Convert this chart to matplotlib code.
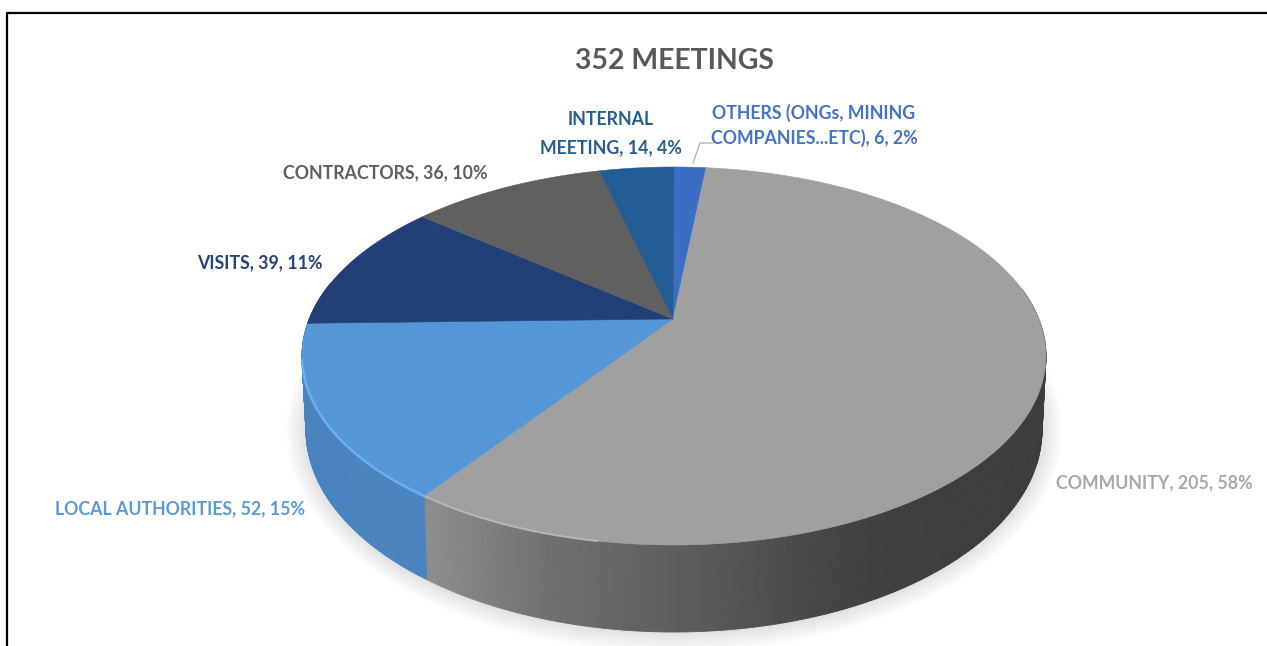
import numpy as np
import matplotlib
matplotlib.use("Agg")
import matplotlib.pyplot as plt
from matplotlib.collections import PolyCollection

plt.rcParams["font.family"] = ["Lato", "DejaVu Sans"]

# ----------------------------
# Meeting counts, clockwise from 12 o'clock
# ----------------------------
title = "352 MEETINGS"
names = ["OTHERS (ONGs, MINING\nCOMPANIES...ETC)", "COMMUNITY", "LOCAL AUTHORITIES",
         "VISITS", "CONTRACTORS", "INTERNAL\nMEETING"]
counts = [6, 205, 52, 39, 36, 14]
percents = [2, 58, 15, 11, 10, 4]
top_colors = ["#3a6dc4", "#a0a0a0", "#5596d6", "#223f78", "#606060", "#245c94"]
text_colors = ["#4472c4", "#a8a8a8", "#5b9bd5", "#264478", "#5f5f5f", "#255e91"]
label_x = [814, 1154, 180, 260, 385, 611]
label_y = [125, 483, 509, 263, 173, 134]

# disc geometry, in pixels: top rim, wall foot, and the tilted centre point
CX, CY, RX, RY = 674, 356, 372, 189
FOOT_CY, FOOT_RX, FOOT_RY = 430, 368, 202
APEX = (673, 319)

fig = plt.figure(figsize=(12.67, 6.46), dpi=100)
ax = fig.add_axes([0, 0, 1, 1])
ax.set_xlim(0, 1267)
ax.set_ylim(646, 0)
ax.axis("off")


def tilt(deg):
    # tilted view pulls the rim angles a little towards the right side
    return np.radians(deg - 11 * np.sin(np.radians(deg)))


def rim(deg):
    t = tilt(deg)
    return CX + RX * np.sin(t), CY - RY * np.cos(t)


def foot(deg, grow=0):
    t = tilt(deg)
    return CX + (FOOT_RX + grow) * np.sin(t), FOOT_CY - (FOOT_RY + grow) * np.cos(t)


edges = np.cumsum([0] + counts) / sum(counts) * 360

# soft shadow under the disc
sweep = np.linspace(0, 360, 240)
for grow in range(2, 22, 2):
    sx, sy = foot(sweep, grow=grow)
    ax.fill(sx, sy, color="black", alpha=0.012, lw=0, zorder=1)


def wall_shade(x):
    return np.interp(x, [430, 560, 700, 850, 950, 1047],
                     [0.55, 0.43, 0.35, 0.26, 0.24, 0.235])


# side wall, front half only
for i in range(len(counts)):
    lo, hi = max(edges[i], 80), min(edges[i + 1], 282)
    if lo >= hi:
        continue
    a = np.linspace(lo, hi, 160)
    x1, y1 = rim(a)
    x2, y2 = foot(a)
    quads, cols = [], []
    for k in range(len(a) - 1):
        quads.append([(x1[k], y1[k]), (x1[k + 1], y1[k + 1]),
                       (x2[k + 1], y2[k + 1]), (x2[k], y2[k])])
        if names[i] == "COMMUNITY":
            shade = wall_shade((x1[k] + x1[k + 1]) / 2)
            cols.append((shade, shade, shade))
        else:
            cols.append("#4a84c0")
    ax.add_collection(PolyCollection(quads, facecolors=cols, edgecolors=cols, linewidths=0.6, zorder=2))

# top face
for i in range(len(counts)):
    a = np.linspace(edges[i], edges[i + 1], 120)
    x, y = rim(a)
    ax.fill(np.r_[APEX[0], x], np.r_[APEX[1], y], color=top_colors[i], lw=0.4, zorder=3)

# lit edge along the front rim
a = np.linspace(190, edges[2], 80)
ax.plot(*rim(a), color="#bcbcbc", lw=1.5, alpha=0.85, zorder=4)
a = np.linspace(edges[2], 258, 60)
ax.plot(*rim(a), color="#6fb2ee", lw=1.8, alpha=0.9, zorder=4)

# labels
for i in range(len(counts)):
    ax.text(label_x[i], label_y[i], f"{names[i]}, {counts[i]}, {percents[i]}%",
            color=text_colors[i], fontsize=12.75, fontweight="bold",
            ha="center", va="center", linespacing=1.45 if i == 0 else 1.8, zorder=5)

ax.text(674, 61, title, color="#595959", fontsize=20.4, fontweight="bold",
        ha="center", va="center", zorder=5)

# leader line for the smallest slice
ax.plot([713, 700, 693], [143, 143, 163], color="#a6a6a6", lw=0.8, zorder=5)

# frame: only the left and top edges are drawn
ax.plot([7, 7, 1267], [646, 13, 13], color="black", lw=1.6, zorder=6)

fig.savefig("out.png", dpi=100)
plt.close(fig)
